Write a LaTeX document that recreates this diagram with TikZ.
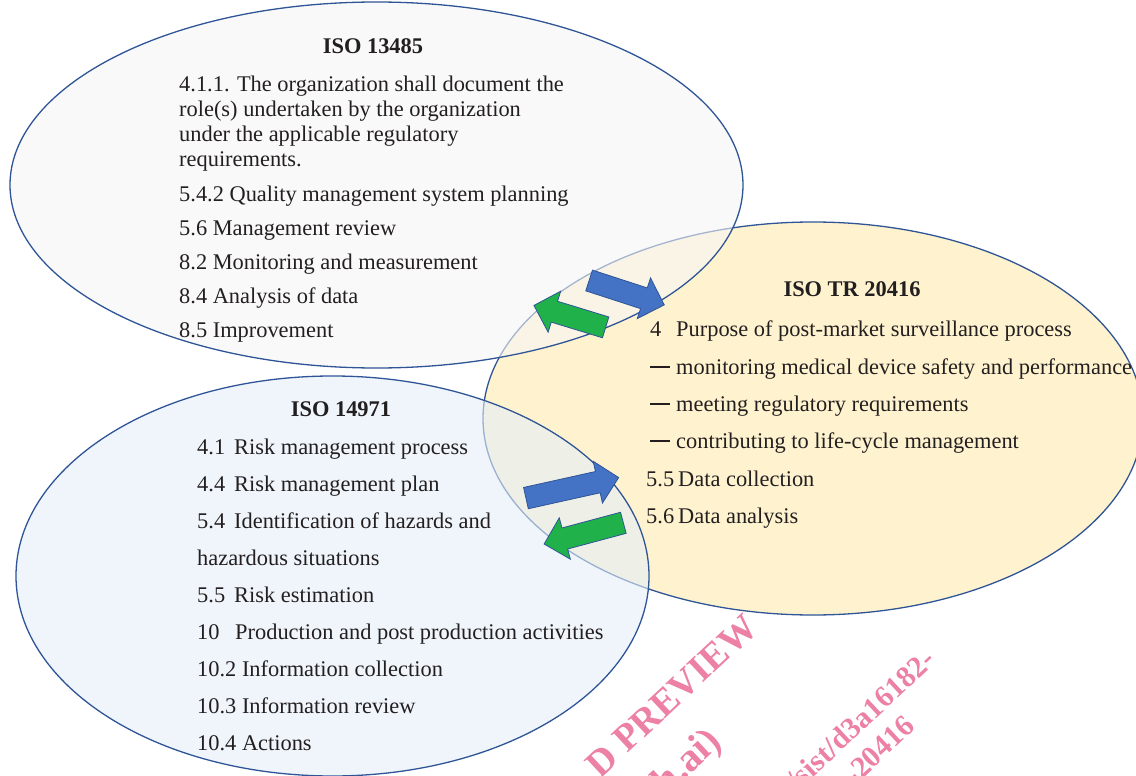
\documentclass[tikz,border=0pt]{standalone}
\usepackage{fontspec}
\setmainfont{Liberation Serif}
\usetikzlibrary{shapes.arrows}

\definecolor{rim}{RGB}{47,85,151}
\definecolor{greyfill}{RGB}{245,245,245}
\definecolor{yellowfill}{RGB}{255,243,207}
\definecolor{bluefill}{RGB}{228,238,248}
\definecolor{arrowblue}{RGB}{68,114,196}
\definecolor{arrowgreen}{RGB}{33,177,75}
\definecolor{wmark}{RGB}{236,128,165}
\definecolor{ink}{RGB}{35,31,32}

\newcommand{\bardash}{\makebox[26pt][l]{\rule[6.5pt]{20pt}{1.7pt}}}

\tikzset{
  txt/.style={anchor=base west,inner sep=0pt,text=ink,font=\fontsize{22.4}{26}\selectfont},
  head/.style={anchor=base,inner sep=0pt,text=ink,font=\fontsize{22.4}{26}\selectfont\bfseries},
  blockarrow/.style={single arrow,draw=rim,line width=0.8pt,inner sep=0pt,
    minimum height=#1,single arrow head extend=10.5pt,inner ysep=10.5pt},
  wm/.style={anchor=base east,inner sep=0pt,text=wmark,rotate=43,
    font=\fontsize{#1}{#1}\selectfont\bfseries}
}

\begin{document}
\begin{tikzpicture}[x=1pt,y=-1pt]
\useasboundingbox (0,0) rectangle (1136,776);
\clip (0,0) rectangle (1136,776);

% the three ellipses
\draw[rim,line width=1.3pt,fill=yellowfill] (813,418.5) ellipse (330 and 196.5);
\draw[rim,line width=1.3pt,fill=greyfill,fill opacity=0.6] (376.5,185) ellipse (366.5 and 183);
\draw[rim,line width=1.3pt,fill=bluefill,fill opacity=0.6] (332.5,576) ellipse (316.5 and 200);

% ISO 13485
\node[head] (h13485) at (373,53.3) {ISO 13485};
\foreach \t [count=\i from 0] in {{4.1.1. The organization shall document the},
  {role(s) undertaken by the organization},{under the applicable regulatory},
  {requirements.}}
  \node[txt] (role\i) at (179,91.7+25*\i) {\t};
\foreach \t [count=\i from 0] in {{5.4.2 Quality management system planning},
  {5.6 Management review},{8.2 Monitoring and measurement},
  {8.4 Analysis of data},{8.5 Improvement}}
  \node[txt] (qms\i) at (179,201.7+34*\i) {\t};

% ISO TR 20416
\node[head] (h20416) at (852,296) {ISO TR 20416};
\node[txt] (pms0) at (650,336.7) {\makebox[26pt][l]{4}Purpose of post-market surveillance process};
\foreach \t [count=\i] in {{monitoring medical device safety and performance},
  {meeting regulatory requirements},{contributing to life-cycle management}}
  \node[txt] (pms\i) at (650,336.7+37.3*\i) {\bardash\t};
\node[txt] (dc) at (646,486) {\makebox[32pt][l]{5.5}Data collection};
\node[txt] (da) at (646,523.3) {\makebox[32pt][l]{5.6}Data analysis};

% ISO 14971
\node[head] (h14971) at (341,416) {ISO 14971};
\foreach \n/\t [count=\i from 0] in {4.1/{Risk management process},
  4.4/{Risk management plan},5.4/{Identification of hazards and}}
  \node[txt] (risk\i) at (197,454.5+37*\i) {\makebox[37pt][l]{\n}\t};
\node[txt] (risk3) at (197,565.5) {hazardous situations};
\node[txt] (risk4) at (197,602.5) {\makebox[37pt][l]{5.5}Risk estimation};
\node[txt] (risk5) at (197,639.5) {\makebox[38pt][l]{10}Production and post production activities};
\foreach \t [count=\i from 0] in {{10.2 Information collection},
  {10.3 Information review},{10.4 Actions}}
  \node[txt] (info\i) at (197,676.5+37*\i) {\t};

% block arrows
\node[blockarrow=79pt,fill=arrowblue,rotate=-18] (up1) at (621.5,291) {};
\node[blockarrow=75pt,fill=arrowgreen,rotate=163] (up2) at (575,318) {};
\node[blockarrow=95pt,fill=arrowblue,rotate=12.5] (lo1) at (567,489) {};
\node[blockarrow=82pt,fill=arrowgreen,rotate=195] (lo2) at (589,532) {};

% watermark
\node[wm=38] (wm1) at (760,630) {D PREVIEW};
\node[wm=40] (wm2) at (723,744) {h.ai)};
\node[wm=30] (wm3) at (937,662) {/sist/d3a16182-};
\node[wm=30] (wm4) at (917,728) {-20416};
\end{tikzpicture}
\end{document}
